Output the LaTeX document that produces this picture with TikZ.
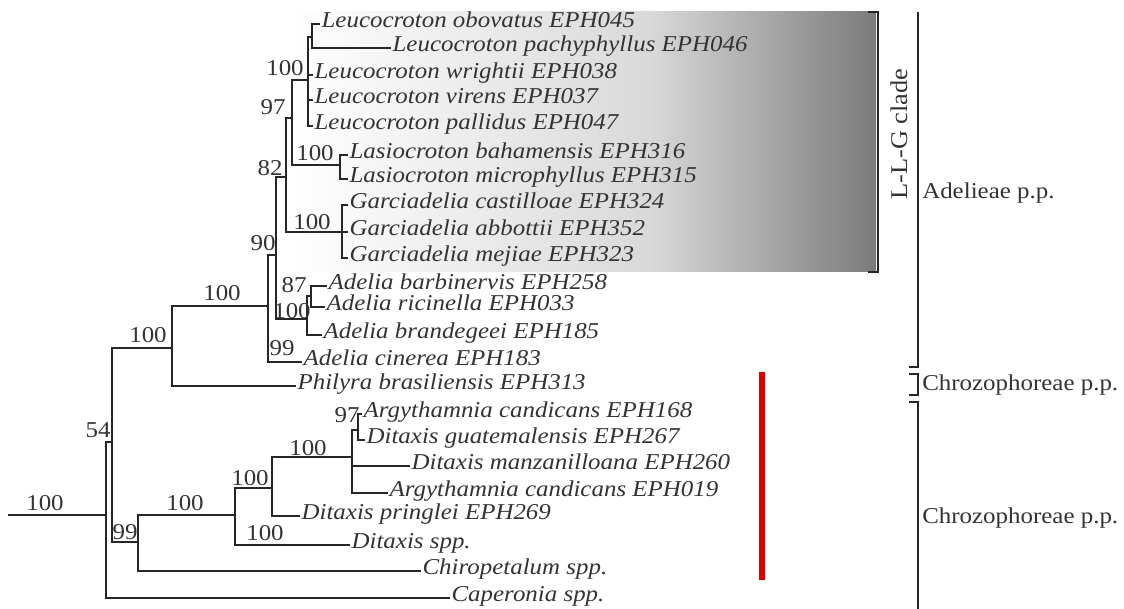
\documentclass[tikz,border=0pt]{standalone}
\usepackage{fontspec}
\setmainfont{Liberation Serif}[FakeStretch=1.1]
\usepackage{tikz}
\definecolor{treeline}{HTML}{262626}
\definecolor{txt}{HTML}{333333}
\definecolor{redbar}{HTML}{E00000}
\tikzset{
  branch/.style={draw=treeline, line width=1.5pt},
  leaf/.style={anchor=west, inner sep=1pt, text height=0.68em, text depth=0.2em,
    font=\fontsize{17}{20}\selectfont\itshape, text=txt},
  sup/.style={inner sep=0pt, font=\fontsize{17}{20}\selectfont, text=txt},
  grp/.style={inner sep=0pt, font=\fontsize{17}{20}\selectfont, text=txt},
  bracket/.style={draw=treeline, line width=2pt},
}
\newcommand{\clade}[2]{\draw[branch] (#1) |- (#2.west);}

\begin{document}
\begin{tikzpicture}[x=0.75pt, y=-0.75pt]
\useasboundingbox (0,0) rectangle (1124,609);
% L-L-G shading
\shade[left color=white, right color=black!15] (292,12) rectangle (651,272);
\shade[left color=black!15, right color=black!52] (650,12) rectangle (876,272);
% leaves
\node[leaf] (obov) at (320,24) {Leucocroton obovatus EPH045};
\node[leaf] (pach) at (391,48) {Leucocroton pachyphyllus EPH046};
\node[leaf] (wrig) at (313,75) {Leucocroton wrightii EPH038};
\node[leaf] (vire) at (313,100) {Leucocroton virens EPH037};
\node[leaf] (pall) at (313,126) {Leucocroton pallidus EPH047};
\node[leaf] (baha) at (348,155) {Lasiocroton bahamensis EPH316};
\node[leaf] (micr) at (348,179) {Lasiocroton microphyllus EPH315};
\node[leaf] (cast) at (348,205) {Garciadelia castilloae EPH324};
\node[leaf] (abbo) at (348,232) {Garciadelia abbottii EPH352};
\node[leaf] (meji) at (348,258) {Garciadelia mejiae EPH323};
\node[leaf] (barb) at (327,286) {Adelia barbinervis EPH258};
\node[leaf] (rici) at (325,307) {Adelia ricinella EPH033};
\node[leaf] (bran) at (322,335) {Adelia brandegeei EPH185};
\node[leaf] (cine) at (302,362) {Adelia cinerea EPH183};
\node[leaf] (phil) at (296,386) {Philyra brasiliensis EPH313};
\node[leaf] (arga) at (362,414) {Argythamnia candicans EPH168};
\node[leaf] (guat) at (365,440) {Ditaxis guatemalensis EPH267};
\node[leaf] (manz) at (410,466) {Ditaxis manzanilloana EPH260};
\node[leaf] (argb) at (388,493) {Argythamnia candicans EPH019};
\node[leaf] (prin) at (300,516) {Ditaxis pringlei EPH269};
\node[leaf] (dspp) at (350,545) {Ditaxis spp.};
\node[leaf] (chir) at (421,571) {Chiropetalum spp.};
\node[leaf] (cape) at (450,598) {Caperonia spp.};
% internal nodes
\coordinate (root0) at (8,515);
\coordinate (nRoot) at (106,515);
\coordinate (n54) at (112,442);
\coordinate (nPhil) at (172,348);
\coordinate (nAdl) at (268,306);
\coordinate (n90) at (276,255);
\coordinate (n82) at (286,177);
\coordinate (n97) at (292,118);
\coordinate (nLeu) at (308,80);
\coordinate (nObo) at (312,37);
\coordinate (nLas) at (340,165);
\coordinate (nGar) at (342,232);
\coordinate (nAde) at (307,319);
\coordinate (n87) at (311,296);
\coordinate (n99) at (138,542);
\coordinate (nDsp) at (235,515);
\coordinate (nPri) at (272,488);
\coordinate (nDit) at (352,457);
\coordinate (nArg) at (358,430);
% branches
\draw[branch] (root0) -- (nRoot);
\clade{nRoot}{n54} \clade{nRoot}{cape}
\clade{n54}{nPhil} \clade{n54}{n99}
\clade{nPhil}{nAdl} \clade{nPhil}{phil}
\clade{nAdl}{n90} \clade{nAdl}{cine}
\clade{n90}{n82} \clade{n90}{nAde}
\clade{n82}{n97} \clade{n82}{nGar}
\clade{n97}{nLeu} \clade{n97}{nLas}
\clade{nLeu}{nObo} \clade{nLeu}{wrig} \clade{nLeu}{vire} \clade{nLeu}{pall}
\clade{nObo}{obov} \clade{nObo}{pach}
\clade{nLas}{baha} \clade{nLas}{micr}
\clade{nGar}{cast} \clade{nGar}{abbo} \clade{nGar}{meji}
\clade{nAde}{n87} \clade{nAde}{bran}
\clade{n87}{barb} \clade{n87}{rici}
\clade{n99}{nDsp} \clade{n99}{chir}
\clade{nDsp}{nPri} \clade{nDsp}{dspp}
\clade{nPri}{nDit} \clade{nPri}{prin}
\clade{nDit}{nArg} \clade{nDit}{manz} \clade{nDit}{argb}
\clade{nArg}{arga} \clade{nArg}{guat}
% support values
\node[sup] (sRoot) at (45,503) {100};
\node[sup] (s54) at (98,430) {54};
\node[sup] (s99) at (125,532) {99};
\node[sup] (sPhil) at (148,335) {100};
\node[sup] (sDsp) at (185,503) {100};
\node[sup] (sAdl) at (222,293) {100};
\node[sup] (sPri) at (250,478) {100};
\node[sup] (sDspp) at (265,533) {100};
\node[sup] (sDit) at (308,448) {100};
\node[sup] (sArg) at (347,415) {97};
\node[sup] (s90) at (263,243) {90};
\node[sup] (s82) at (270,168) {82};
\node[sup] (s97) at (273,107) {97};
\node[sup] (sLeu) at (285,68) {100};
\node[sup] (sLas) at (315,153) {100};
\node[sup] (sGar) at (312,222) {100};
\node[sup] (s87) at (294,285) {87};
\node[sup] (sAde) at (292,311) {100};
\node[sup] (sCin) at (282,348) {99};
% groups
\draw[bracket] (868,12) -- (878,12) -- (878,272) -- (868,272);
\node[grp, rotate=90, font=\fontsize{18}{20}\selectfont] (llg) at (899,134) {L-L-G clade};
\draw[bracket] (918,12) -- (918,367) -- (909,367);
\draw[bracket] (909,374) -- (918,374) -- (918,395) -- (909,395);
\draw[bracket] (909,402) -- (918,402) -- (918,609);
\node[grp, anchor=west] (adel) at (922,193) {Adelieae p.p.};
\node[grp, anchor=west] (chrA) at (922,385) {Chrozophoreae p.p.};
\node[grp, anchor=west] (chrB) at (922,518) {Chrozophoreae p.p.};
\draw[redbar, line width=4pt] (762,372) -- (762,580);
\end{tikzpicture}
\end{document}
